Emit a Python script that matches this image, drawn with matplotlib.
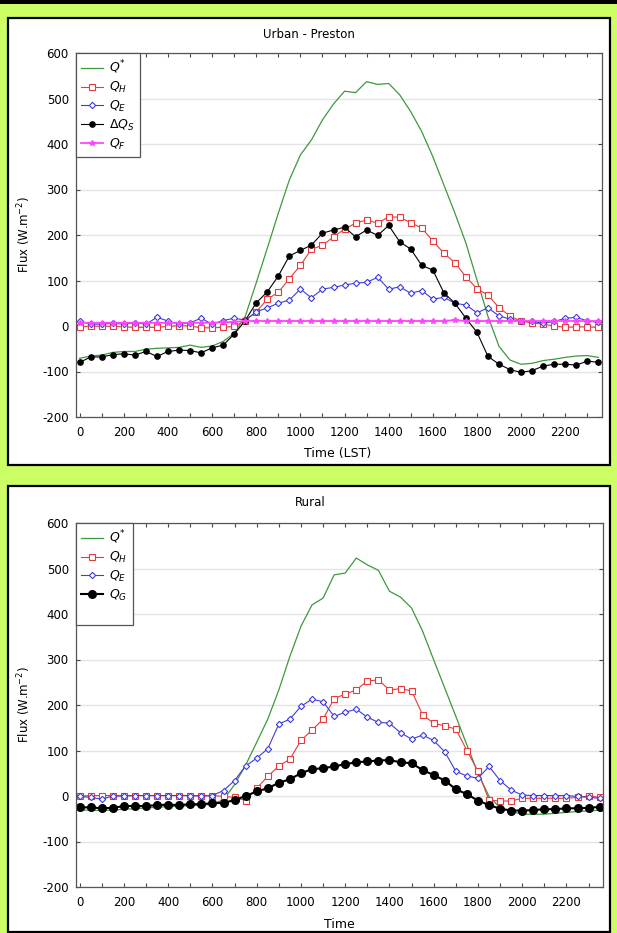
import matplotlib
matplotlib.use('Agg')
import matplotlib.pyplot as plt
from matplotlib.patches import Rectangle

plt.rcParams['font.family'] = ['DejaVu Sans']
plt.rcParams['mathtext.fontset'] = 'dejavusans'
plt.rcParams['axes.unicode_minus'] = False

# ---------------- data ----------------
time = [0, 50, 100, 150, 200, 250, 300, 350, 400, 450, 500, 550, 600, 650, 700, 750,
        800, 850, 900, 950, 1000, 1050, 1100, 1150, 1200, 1250, 1300, 1350, 1400, 1450,
        1500, 1550, 1600, 1650, 1700, 1750, 1800, 1850, 1900, 1950, 2000, 2050, 2100,
        2150, 2200, 2250, 2300, 2350]

xticks_major = [0, 200, 400, 600, 800, 1000, 1200, 1400, 1600, 1800, 2000, 2200]
yticks = [-200, -100, 0, 100, 200, 300, 400, 500, 600]

# Urban - Preston
urban_qstar = [-71, -66, -64, -58, -56, -56, -51, -49, -48, -47, -42, -47, -44, -34, -16, 21,
               95, 171, 248, 321, 376, 409, 453, 488, 516, 513, 537, 531, 533, 508,
               471, 427, 372, 310, 248, 182, 101, 21, -45, -75, -84, -82, -76, -73, -69, -66, -65, -69]
urban_qh = [-2, 0, -1, 0, -2, -3, -3, -3, -1, 1, 0, -4, -4, -3, -1, 12,
            31, 59, 74, 104, 133, 169, 177, 196, 213, 226, 233, 226, 240, 239,
            227, 215, 187, 160, 139, 108, 82, 68, 40, 22, 10, 7, 4, 0, -3, -2, -2, -3]
urban_qe = [11, 4, 4, 6, 4, 7, 4, 19, 11, 4, 7, 17, 4, 12, 17, 13,
            31, 40, 50, 57, 81, 62, 81, 85, 90, 94, 96, 107, 81, 86,
            72, 78, 59, 63, 50, 46, 29, 40, 22, 15, 10, 10, 6, 10, 17, 19, 11, 8]
urban_dqs = [-80, -68, -68, -63, -61, -64, -56, -67, -56, -53, -54, -59, -48, -42, -18, 12,
             51, 75, 110, 154, 166, 178, 204, 211, 217, 196, 211, 199, 221, 185,
             169, 133, 123, 73, 50, 17, -14, -67, -84, -96, -102, -98, -88, -84, -84, -86, -77, -80]
urban_qf = [7, 7, 7, 7, 7, 7, 7, 7, 7, 7, 7, 7, 7, 8, 9, 11,
            11, 11, 11, 11, 11, 11, 11, 11, 11, 11, 11, 11, 11, 11,
            11, 11, 11, 11, 13, 11, 11, 11, 11, 11, 11, 11, 11, 11, 11, 11, 11, 11]

# Rural
rural_qstar = [-31, -31, -32, -31, -29, -28, -26, -25, -23, -23, -21, -20, -18, -8, 25, 68,
               118, 169, 233, 307, 373, 420, 435, 486, 490, 523, 508, 496, 450, 437,
               413, 362, 299, 237, 175, 112, 50, -1, -26, -34, -40, -40, -40, -38, -36, -34, -33, -31]
rural_qh = [0, 1, 1, 1, 1, 1, 1, 1, 1, 1, 1, 0, 1, -1, -3, -10,
            17, 43, 66, 81, 122, 145, 169, 214, 224, 233, 253, 255, 233, 236,
            231, 178, 160, 154, 147, 100, 54, -9, -11, -11, -5, -5, -5, -5, -5, -3, 0, -3]
rural_qe = [-1, -3, -7, 0, 0, 1, 1, 1, 1, 1, 1, 0, 1, 12, 34, 66,
            83, 104, 158, 169, 197, 213, 207, 175, 184, 191, 173, 162, 160, 139,
            125, 134, 122, 97, 54, 44, 39, 65, 34, 13, 2, 1, 1, 1, 1, -1, -3, -5]
rural_qg = [-25, -25, -27, -26, -22, -22, -22, -20, -19, -20, -18, -18, -16, -15, -9, 0,
            10, 17, 29, 37, 50, 59, 61, 65, 70, 74, 76, 78, 79, 74,
            72, 57, 46, 34, 15, 4, -10, -20, -28, -32, -32, -31, -29, -29, -27, -27, -26, -24]

# ---------------- figure ----------------
W, H = 617, 933
fig = plt.figure(figsize=(W / 100, H / 100), dpi=100)
fig.patch.set_facecolor('#CCFF66')


def fx(px):
    return px / W


def fy(py):
    return 1 - py / H


# black strip at top
fig.add_artist(Rectangle((0, fy(4)), 1, 4 / H, transform=fig.transFigure,
                         facecolor='black', edgecolor='none', zorder=-10))
# white panel frames
for top, bot in [(18, 465.5), (486, 932)]:
    fig.add_artist(Rectangle((fx(8), fy(bot)), fx(610) - fx(8), (bot - top) / H,
                             transform=fig.transFigure, facecolor='white',
                             edgecolor='black', lw=1.6, zorder=-5))

ax1 = fig.add_axes([fx(75.7), fy(417), fx(601.7) - fx(75.7), (417 - 53) / H])
ax2 = fig.add_axes([fx(75.7), fy(887), fx(603) - fx(75.7), (887 - 523) / H])


def style(ax):
    ax.set_xlim(-18, 2365)
    ax.set_ylim(-200, 600)
    ax.set_xticks(xticks_major)
    ax.set_xticks(list(range(0, 2400, 100)), minor=True)
    ax.set_yticks(yticks)
    ax.tick_params(which='both', direction='in', top=True, right=True, length=3,
                   width=0.8, color='#444444', labelsize=8.5)
    ax.tick_params(axis='x', which='major', pad=6.5)
    ax.tick_params(axis='y', pad=5)
    ax.grid(axis='y', color='#E4E4E4', lw=1)
    ax.set_axisbelow(True)
    for s in ax.spines.values():
        s.set_color('#555555')
        s.set_linewidth(0.9)


green = '#3C9A3C'
red = '#E83A3A'
blue = '#3C3CE0'
magenta = '#FF44FF'

legend_kw = dict(loc='upper left', bbox_to_anchor=(0, 1), borderaxespad=0, fancybox=False,
                 edgecolor='#555555', fontsize=9, handlelength=1.7, labelspacing=0.3,
                 borderpad=0.45, framealpha=1, handletextpad=0.5)

# Urban
ax1.plot(time, urban_qstar, color=green, lw=0.9, label=r'$Q^{*}$')
ax1.plot(time, urban_qh, color=red, lw=0.8, marker='s', ms=5, mfc='white', mew=0.8,
         label=r'$Q_H$')
ax1.plot(time, urban_qe, color=blue, lw=0.8, marker='D', ms=3.2, mfc='white', mew=0.8,
         label=r'$Q_E$')
ax1.plot(time, urban_dqs, color='black', lw=0.8, marker='o', ms=3.8, label=r'$\Delta Q_S$')
ax1.plot(time, urban_qf, color=magenta, lw=1.3, marker='*', ms=4, label=r'$Q_F$')
style(ax1)
leg1 = ax1.legend(**legend_kw)
leg1.get_frame().set_linewidth(0.9)

# Rural
ax2.plot(time, rural_qstar, color=green, lw=0.9, label=r'$Q^{*}$')
ax2.plot(time, rural_qh, color=red, lw=0.8, marker='s', ms=5, mfc='white', mew=0.8,
         label=r'$Q_H$')
ax2.plot(time, rural_qe, color=blue, lw=0.8, marker='D', ms=3.2, mfc='white', mew=0.8,
         label=r'$Q_E$')
ax2.plot(time, rural_qg, color='black', lw=1.5, marker='o', ms=5.5, label=r'$Q_G$')
ax2.plot([], [], ls='none', label=' ')
style(ax2)
leg2 = ax2.legend(**legend_kw)
leg2.get_frame().set_linewidth(0.9)

# Titles and labels
fig.text(fx(309), fy(34), 'Urban - Preston', ha='center', va='center', fontsize=8.5)
fig.text(fx(310), fy(502), 'Rural', ha='center', va='center', fontsize=8.5)
fig.text(fx(338), fy(454), 'Time (LST)', ha='center', va='center', fontsize=9)
fig.text(fx(339), fy(925), 'Time', ha='center', va='center', fontsize=9)
fig.text(fx(24), fy(235), r'Flux (W.m$^{-2}$)', ha='center', va='center', rotation=90, fontsize=8.5)
fig.text(fx(24), fy(705), r'Flux (W.m$^{-2}$)', ha='center', va='center', rotation=90, fontsize=8.5)

fig.savefig('out.png', dpi=100, facecolor=fig.get_facecolor())
